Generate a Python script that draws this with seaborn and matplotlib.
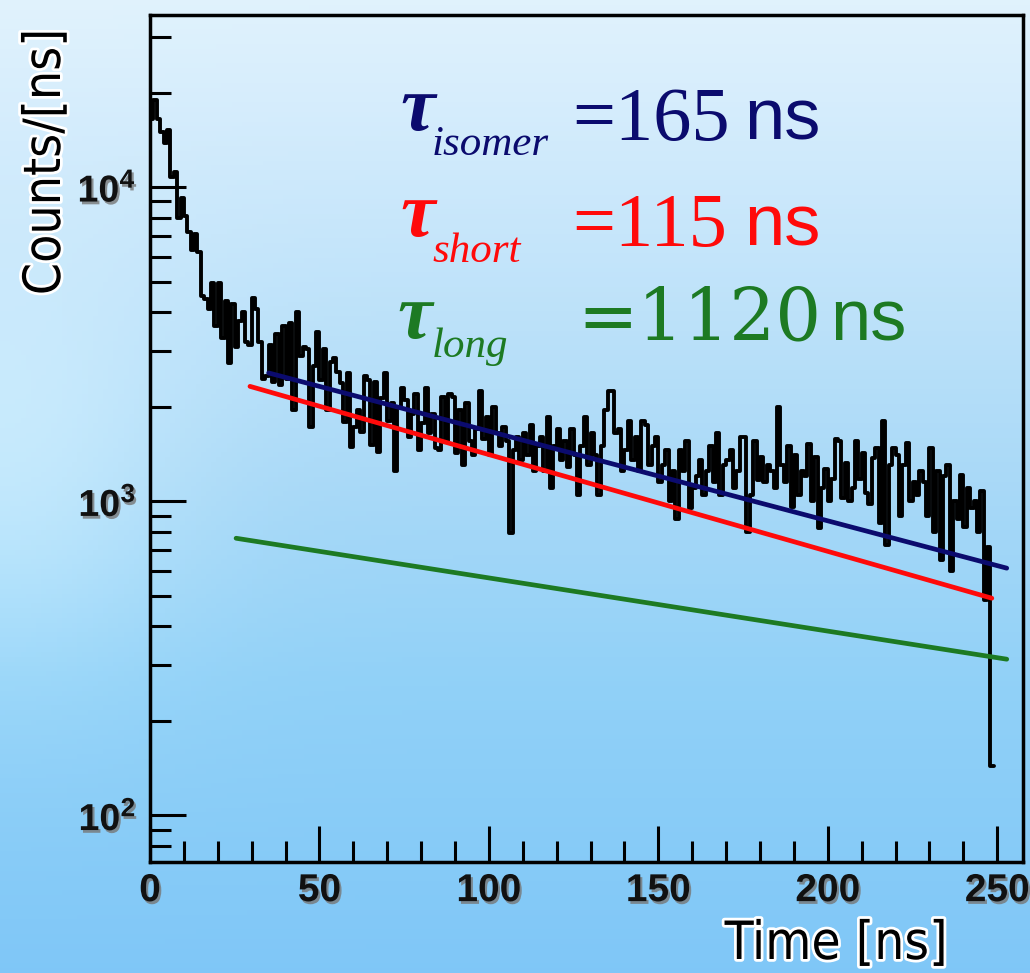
import numpy as np
import pandas as pd
import matplotlib
matplotlib.use("Agg")
import matplotlib.pyplot as plt
import seaborn as sns
from matplotlib import patheffects as pe
from matplotlib.ticker import MultipleLocator, LogLocator, FixedLocator, FixedFormatter, NullFormatter

# ---------------- data ----------------
bin_width_ns = 1.0
counts = [
    16500, 19000, 16500, 15000, 13800, 15200, 10800, 11200, 8000, 9200,
    8100, 7200, 6300, 7100, 6200, 4500, 4400, 4100, 4950, 3600,
    4950, 3300, 4350, 2750, 4250, 3100, 3750, 4000, 3200, 3150,
    4450, 4100, 3200, 2450, 2500,
    3150, 2400, 3400, 2350, 3600, 2450, 3700, 1950, 4000, 2900,
    3100, 3050, 1720, 2700, 3450, 2430, 3060, 1950, 2770, 2850,
    2570, 2380, 1790, 2560, 1490, 1720, 1950, 1660, 2510, 2430,
    1510, 2400, 1430, 2130, 2560, 1800, 2050, 1250, 2000, 2300,
    2100, 1600, 1900, 2200, 1450, 1780, 2300, 1650, 1900, 1480,
    1450, 2150, 1550, 2200, 2150, 1420, 1950, 1300, 2050, 1550,
    1400, 1700, 2250, 1580, 1850, 1400, 2000, 1650, 1500, 1720,
    1550, 790, 1450, 1600, 1350, 1650, 1400, 1750, 1250, 1500,
    1600, 1250, 1850, 1100, 1500, 1700, 1350, 1550, 1280, 1700,
    1400, 1050, 1500, 1850, 1300, 1650, 1400, 1050, 1500, 1950,
    2250, 2250, 1650, 1700, 1250, 1450, 1800, 1350, 1600, 1250,
    1800, 1750, 1300, 1500, 1600, 1150, 1300, 1450, 1000, 1250,
    880, 1450, 1250, 1550, 950, 1100, 1200, 1350, 1050, 1250,
    1500, 1150, 1650, 1050, 1300, 1350, 1450, 1100, 1250, 1600,
    1600, 800, 1050, 1550, 1170, 1380, 1150, 1300, 1250, 1100,
    2000, 1300, 1150, 1500, 960, 1400, 1050, 1250, 1200, 1520,
    1000, 1380, 820, 1100, 1270, 1000, 1180, 1580, 1550, 1020,
    1320, 1000, 1100, 1550, 1180, 1420, 1060, 980, 1370, 1480,
    850, 1800, 725, 1300, 1480, 1400, 900, 1300, 1530, 1000,
    1150, 1050, 1250, 1150, 900, 1480, 800, 1250, 650, 1200,
    1300, 600, 1000, 880, 1210, 830, 1100, 950, 1000, 800, 1080,
    484, 714, 143,
]

# fitted exponentials (straight lines on the log axis): end points
isomer_t = [35.0, 252.8]
isomer_y = [2560, 612]
short_t = [29.5, 248.4]
short_y = [2320, 491]
long_t = [25.4, 252.8]
long_y = [762, 314]

x_ticks = [0, 50, 100, 150, 200, 250]
y_ticks = [1e2, 1e3, 1e4]
y_tick_labels = [r"$\mathbf{10^{2}}$", r"$\mathbf{10^{3}}$", r"$\mathbf{10^{4}}$"]

navy = "#0b0b6e"
red = "#ff0a0a"
green = "#1d7a23"

# ---------------- style ----------------
sns.set_style("ticks")
plt.rcParams["font.family"] = ["Liberation Sans", "DejaVu Sans"]
plt.rcParams["mathtext.fontset"] = "custom"
plt.rcParams["mathtext.rm"] = "Liberation Sans:bold"
plt.rcParams["mathtext.bf"] = "Liberation Sans:bold"
plt.rcParams["mathtext.it"] = "Liberation Sans:bold"

W, H = 1030, 973
fig = plt.figure(figsize=(W / 100, H / 100), dpi=100)

# background gradient (sky / water)
bg_ax = fig.add_axes([0, 0, 1, 1])
bg_ax.set_axis_off()
ny, nx = 200, 200
yy = np.linspace(0, 1, ny)[:, None]
xx = np.linspace(0, 1, nx)[None, :]
stops_y = [0.0, 0.1, 0.3, 0.5, 0.7, 1.0]
stops_c = np.array([
    [0.88, 0.95, 0.99],
    [0.84, 0.93, 0.99],
    [0.75, 0.89, 0.98],
    [0.66, 0.85, 0.97],
    [0.57, 0.82, 0.97],
    [0.50, 0.78, 0.97],
])
bg = np.zeros((ny, nx, 3))
for c in range(3):
    col = np.interp(yy[:, 0], stops_y, stops_c[:, c])
    bg[:, :, c] = col[:, None]
glow = 0.10 * np.exp(-((xx - 0.0) / 0.18) ** 2) * np.exp(-((yy - 0.5) / 0.22) ** 2)
bg = np.clip(bg + glow[:, :, None] * np.array([1.0, 0.6, 0.2]), 0, 1)
bg_ax.imshow(bg, aspect="auto", extent=[0, 1, 0, 1], origin="upper")
bg_ax.set_xlim(0, 1)
bg_ax.set_ylim(0, 1)

ax = fig.add_axes([150 / W, 1 - 862 / H, (1023 - 150) / W, (862 - 15) / H])
ax.set_facecolor("none")

# histogram as steps
edges = np.arange(len(counts) + 1) * bin_width_ns
hist_df = pd.DataFrame({"t": edges, "c": list(counts) + [counts[-1]]})
sns.lineplot(data=hist_df, x="t", y="c", ax=ax, color="black", lw=2.8,
             drawstyle="steps-post", estimator=None, sort=False, zorder=3)

for t, y, col in [(isomer_t, isomer_y, navy), (short_t, short_y, red), (long_t, long_y, green)]:
    sns.lineplot(x=t, y=y, ax=ax, color=col, lw=3.4, estimator=None, sort=False, zorder=4)

ax.set_yscale("log")
ax.set_xlim(0, 257.6)
ax.set_ylim(71, 35300)

ax.xaxis.set_major_locator(FixedLocator(x_ticks))
ax.xaxis.set_minor_locator(MultipleLocator(10))
ax.yaxis.set_major_locator(FixedLocator(y_ticks))
ax.yaxis.set_major_formatter(FixedFormatter(y_tick_labels))
ax.yaxis.set_minor_locator(LogLocator(base=10, subs=range(2, 10)))
ax.yaxis.set_minor_formatter(NullFormatter())

ax.tick_params(which="major", direction="in", length=26, width=2.2, color="black",
               top=False, right=False)
ax.tick_params(which="minor", direction="in", length=15, width=2.2, color="black",
               top=False, right=False)
ax.tick_params(axis="x", which="major", pad=8, labelsize=28)
ax.tick_params(axis="y", which="major", pad=10, labelsize=27)

shadow = [pe.SimplePatchShadow(offset=(1.5, -2), shadow_rgbFace="#777777", alpha=0.8), pe.Normal()]
for lab in ax.get_xticklabels() + ax.get_yticklabels():
    lab.set_fontweight("bold")
    lab.set_color("#111111")
    lab.set_path_effects(shadow)

for s in ax.spines.values():
    s.set_linewidth(2.5)
    s.set_color("black")
    s.set_visible(True)
ax.set_xlabel("")
ax.set_ylabel("")

outline = [pe.withStroke(linewidth=4, foreground="white")]
cond = ["DejaVu Sans"]
fig.text(46 / W, 1 - 162 / H, "Counts/[ns]", rotation=90, ha="center", va="center",
         family=cond, fontstretch="condensed", fontsize=37, color="black",
         path_effects=outline)
fig.text(836 / W, 1 - 944 / H, "Time [ns]", ha="center", va="center",
         family=cond, fontstretch="condensed", fontsize=38, color="black",
         path_effects=outline)

rows = [
    # tau x, tau base, sub text, sub base, value text, value x, value base, value font, value size, ns x, colour
    (400, 130, "isomer", 155, "=165", 572, 140, ["Liberation Serif"], 55, 744, navy),
    (400, 236, "short", 262, "=115", 572, 246, ["Liberation Serif"], 55, 744, red),
    (397, 338, "long", 357, "=1120", 577, 340, ["DejaVu Serif"], 52, 830, green),
]
for tx, tb, sub, sb, val, vx, vb, vfont, vsize, nsx, col in rows:
    fig.text(tx / W, 1 - tb / H, "\u03c4", family=["Liberation Serif", "DejaVu Serif"],
             style="italic", weight="bold", fontsize=56, color=col, va="baseline", ha="left")
    fig.text(432 / W, 1 - sb / H, sub, family=["Liberation Serif", "DejaVu Serif"],
             style="italic", fontsize=31, color=col, va="baseline", ha="left")
    fig.text(vx / W, 1 - vb / H, val, family=vfont, fontsize=vsize, color=col,
             va="baseline", ha="left")
    fig.text(nsx / W, 1 - vb / H, "ns", family=["Liberation Sans", "DejaVu Sans"],
             fontsize=52, color=col, va="baseline", ha="left")

fig.savefig("out.png", dpi=100)
